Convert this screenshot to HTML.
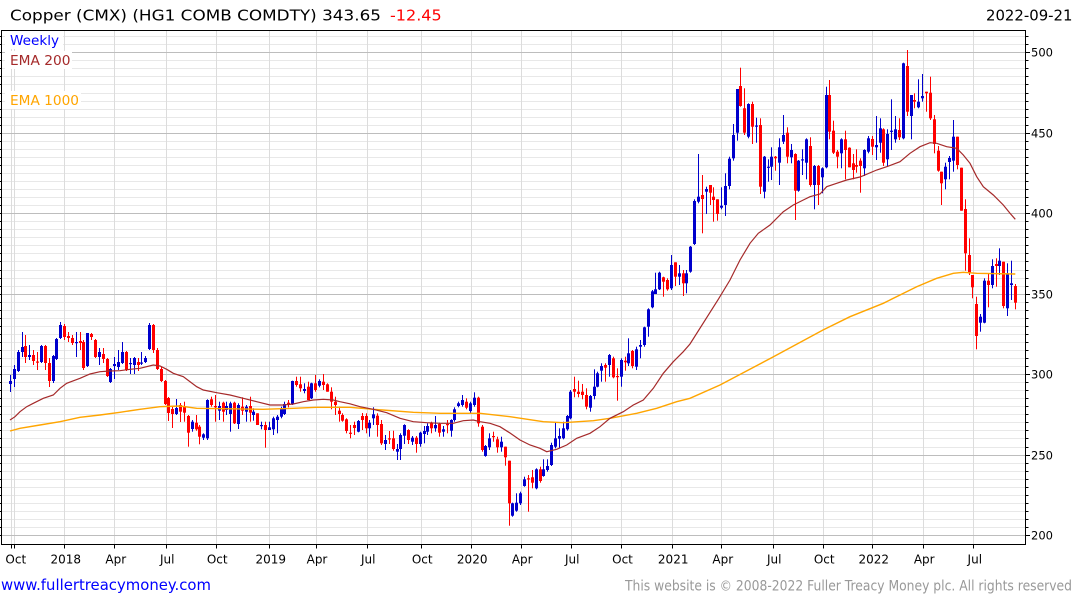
<!DOCTYPE html>
<html>
<head>
<meta charset="utf-8">
<style>
html,body{margin:0;padding:0;background:#fff;width:1075px;height:600px;overflow:hidden}
svg{display:block;font-family:"DejaVu Sans","Liberation Sans",sans-serif}
</style>
</head>
<body>
<svg id="s" width="1075" height="600" viewBox="0 0 1075 600" xmlns="http://www.w3.org/2000/svg">
<rect x="0" y="0" width="1075" height="600" fill="#fff"/>
<g id="grid"></g>
<g id="legend">
  <rect x="5" y="31" width="58" height="18" fill="#fff"/>
  <rect x="5" y="51" width="67" height="18" fill="#fff"/>
  <rect x="5" y="91" width="76" height="18" fill="#fff"/>
  <text x="10" y="45" font-size="13" fill="#0000ff" textLength="49" lengthAdjust="spacingAndGlyphs">Weekly</text>
  <text x="10" y="65" font-size="13" fill="#a52a2a" textLength="60.5" lengthAdjust="spacingAndGlyphs">EMA 200</text>
  <text x="10" y="105" font-size="13" fill="#ffa500" textLength="69" lengthAdjust="spacingAndGlyphs">EMA 1000</text>
</g>
<g id="candles"></g>
<g id="ema"></g>
<g id="axes"></g>
<text x="10" y="20.5" font-size="15" fill="#000" textLength="371" lengthAdjust="spacingAndGlyphs">Copper (CMX) (HG1 COMB COMDTY) 343.65</text>
<text x="390" y="20.5" font-size="15" fill="#ff0000" textLength="51.7" lengthAdjust="spacingAndGlyphs">-12.45</text>
<text x="986" y="20.5" font-size="15" fill="#000" textLength="86.5" lengthAdjust="spacingAndGlyphs">2022-09-21</text>
<text x="1" y="590" font-size="15.5" fill="#0000ff" textLength="210" lengthAdjust="spacingAndGlyphs">www.fullertreacymoney.com</text>
<text x="625" y="590.5" font-size="14" fill="#999" textLength="447" lengthAdjust="spacingAndGlyphs">This website is © 2008-2022 Fuller Treacy Money plc. All rights reserved</text>
</svg>
<script>
(function(){
var Y=function(v){return 52.3+(500-v)*1.609;};
var g='';
// minor horizontal grid
var majors='';
for(var v=200;v<=510;v+=5){
  var y=Math.round(Y(v))+0.5;
  if(y<31)continue;
  if(v%50===0){majors+='<line x1="2" x2="1025" y1="'+y+'" y2="'+y+'" stroke="#bdbdbd" stroke-width="1"/>';}
  else{g+='<line x1="2" x2="1025" y1="'+y+'" y2="'+y+'" stroke="#e8e8e8" stroke-width="1"/>';}
}
var vx=[11,14.3,64.3,114.3,165.7,215.7,269.3,315.5,366.7,420.7,470.7,520.7,570.7,621,671.7,721.3,772.7,822.7,872.3,922.7,973.3];
vx.forEach(function(x){var xx=Math.round(x)+0.5;g+='<line x1="'+xx+'" x2="'+xx+'" y1="31" y2="544" stroke="#dcdcdc" stroke-width="1"/>';});
g+=majors;
document.getElementById('grid').innerHTML=g;

var D=[
[384,381,375,392],[379,369,365,387],[371,352,350,372],[352,347,332,357],[346,357,335,363],[357,355,345,360],[355,361,350,365],[361.5,362.5,352,370],[362,346,345,363],[346,363,345,370],
[363,381,358,387],[381,356,355,383],[359,339,338,360],[338,325,322,339],[326,337,324,340],[336,338,332,342],[338,343,335,345],[343,342,332,357],[341,343,332,350],[342,368,340,370],
[366,333,333,367],[334,337,333,340],[340,357,339,358],[357,352,348,365],[354,359,348,363],[359,376,358,377],[382,369,368,383],[366,364,357,379],[367,362,350,370],[363,352,342,364],
[352,370,351,371],[364,363,358,374],[365,358,357,374],[362,365,358,371],[363.5,362.5,352,365],[362,358,356,363],[349,325,323,350],[325,350,324,353],[350,369,348,370],[369,381,367,382],
[381,404,380,405],[398,413,397,421],[409,414,407,428],[414,408,399,415],
[405,411.7,403,422],[406.7,412.7,401.7,421.7],[416,432.7,415,446.7],[429,421.7,420,431.7],[422.7,429.3,415,430.7],[426.7,436.7,425,444.3],[437.7,434.3,433.3,440],[438.3,400,399.3,440],[399.3,405,396.7,406.7],[406,407.3,395,421.7],
[410.7,406,401.7,420],[402.7,411.7,401.7,421.7],[410,406,401.7,415],[414,403.3,401.7,431.7],[402.7,423.3,401.7,424],[424,405,403.3,429],[406.7,410.7,397.3,415],[411.7,406.7,405,421.7],[406,412.7,396.7,421.7],[415,411.7,408.3,420.7],
[413.3,425,413.3,425],[425.7,425,421.7,429.3],[425,430,421.7,447.7],[430,427.3,421.7,430],[429.3,418.3,416.7,435],[420,416.7,415,433.3],[416.7,408.3,406.7,418.3],[414,404,401.7,415],[402.7,405,400,407.3],[404.3,381,380.7,405],
[381,385,376.7,386.7],[384.3,388.3,376.7,391.7],[391,389,383.3,393.3],[386.7,400,381.7,400],[398.3,383.3,382.7,399],[383.3,390,375,391.7],[385.7,381,379.3,387.3],[381.7,385,374,390],[384.3,391.7,383.3,391.7],[391.7,401.7,387.3,409.3],
[401.7,405,396.7,415],[410.7,414,406.7,421.7],[415,420.7,413.3,421.7],[419.3,431,418.3,433.3],
[432.7,433.3,425,438.3],[425,428,421.7,435],[431.7,421,420,432.3],[416,420,413,430],[416,428.3,413.3,433.3],[428.3,422.7,420,436.7],[418.3,414.3,407.3,425],[415.7,425,413.3,436.7],[424,443.3,420,445],[444,440,435,450],
[438.3,439,431,444],[438.3,449,430.7,450.7],[451.7,449,444,460],[449,435,433.3,460],[435.7,425,424.3,444],[430,440,429.3,444],[441.7,437.7,436,445],[437.7,444,436,452.7],[444,432.7,431.7,446.7],[434,431,426,443.3],
[431.7,426,423.3,435],[422.7,428.3,421.7,433.3],[428.3,425,416,431.7],[424,432.7,422.7,436.7],[431.7,429.3,426,436.7],[424,425,420,433.3],[430.7,420,419.3,436.7],[420,409.3,407.3,421.7],[406,403.3,401.7,407.3],[405,400,395,406.7],
[401.7,407.7,398.3,409.3],[411,403.3,401.7,413.3],[405,397.7,392.3,406.7],[397.7,423.3,396.7,426.7],[426.7,450,425,451.7],[456,446,445,456.7],[447.3,438.3,433.3,450],[436,436.7,431.7,441.7],[439.3,447.3,436.7,452.7],[447.3,441.7,436.7,451.7],
[446.7,457.3,446.7,465.7],[460.7,503.3,460.7,525.7],[515.7,503.3,502.7,516.7],[510.7,502.7,493.3,511.7],
[503.3,493.3,491.7,505],[486,479.3,476.7,486.7],[478.3,479.3,475,511.7],[477.3,482.7,470,488.3],[488.3,469.3,468.3,489.3],[469.3,481,466.7,482.7],[476,469.3,459.3,476.7],[470,466,459.3,471.7],[465,445,442.7,466],[446.7,438.3,422.7,448.3],
[438.7,436,428.3,448.3],[438.3,428.3,421.7,439.3],[429.3,416,415,430.7],[418.3,391.7,390,419.3],[389,391.7,376.7,397.3],[391.7,394,380.7,397.3],[391.7,395,384,399.3],[395,406.7,388.3,409.3],[407.7,396,395,411.7],[396,386.7,369.3,399.3],
[386.7,373.3,371.7,387.3],[370.7,366,363.3,381.7],[365,367.7,363.3,381.7],[365,355,354,376.7],[358.3,377.3,356.7,378.3],[376,376.7,368.3,400.7],[376.7,360,358.3,386.7],[360.7,362.3,356.7,370.7],[363.3,353.3,338.3,366],[351,366,350,368.3],
[366.7,349.3,346.7,370],[346.7,345,340,358.3],[345,327.3,326.7,346.7],[326.7,309.3,308.3,336.7],[307.3,291.3,290,308.3],[294,289.3,272.7,294],[289.3,272.7,271.7,290],[277.3,281.7,276.7,296.7],[280,289.3,278.3,290.7],[288.3,265,255,290],
[262.3,276.7,262.3,286],[276.7,273.3,265,285],[273.3,283.3,270,296],[283.3,273.3,270,293.3],
[271.7,246.7,246,272.7],[244,201,199.3,245],[201.7,196.7,154,203.3],[195,199,175,233.3],[191.7,189,186.7,214],[185,192.7,185,205],[196.7,200,187.3,221.7],[199.3,214,199.3,220.7],[207.7,205.7,187.3,209.3],[205,186,173.3,216],
[186,158.7,156.7,189.3],[158.3,135,124,160.7],[132.7,89,89,140.7],[86,106,67.7,106.7],[108.3,132.7,88.3,135],[136.7,104,103.3,138.3],[104,126.7,101.7,144],[126.5,125.5,117.7,142.7],[125,186.7,118.3,194],[191.7,156.7,156,198.3],
[167.7,166.7,159.3,181.7],[166.7,156.7,147.3,180],[156.7,158.3,156,170.7],[162.7,147.3,138.3,185],[141.7,135,115,144],[132.7,156.7,127.3,163.3],[157.3,150,144,163.3],[154,190.7,153.3,220],[190.7,160.7,160,191.7],[160,159.3,149.3,175],
[162.7,139.3,138.3,179.3],[146,185,137.3,186.7],[185,166,165,209.3],[166,185,165,205],[177.3,168.3,167.3,193.3],[167.3,95,86.7,168.3],[95,131.7,80,139.3],[130.7,152.7,120.7,154],[151.7,156.7,150,168.3],[153.3,139.3,138.3,168.3],
[139.3,150,130.7,179.3],[147.7,167.3,147.3,167.3],[163.3,170,154,179.3],[165,166.7,149.3,172.7],
[160.7,166,158.3,192.7],[168.3,150,149.3,176],[151.7,138.3,136,153.3],[139,146.7,136,155],[147.3,145,116,160],[142.7,128.3,118.3,152.7],[129.3,162.7,128.3,166],[159.3,134,129.3,166.7],[131.7,130.7,99.3,150],[139.3,129.3,116,142.7],
[130,137.3,118.3,140],[138.3,63.3,62.7,139.3],[66,111.7,50,116],[116,95,95,139.3],[100,101.7,93.3,108.3],[107.3,101.7,79.3,108.3],[98.3,96,74,101.7],[91.7,93.3,91.7,111.7],[92.7,118.3,76.7,120],[119.3,144,115,153.3],
[150.7,170.7,146,171.7],[171.7,183.3,171.7,205],[179.3,166.7,162.7,189.3],[162,158,156,179.3],[160.7,136.7,120,171.7],[136.7,165,136.7,169.3],[167.7,210.7,167.7,210.7],[209,253.3,199.3,270.7],[255,273.3,238.3,275],[275,287.3,275,298.3],
[304,336,296.7,349.3],[322.7,316.7,314,331.7],[322.7,280.7,278.3,323.3],[280.7,285,273.3,307.3],[285,266,259.3,288.3],[264,266,258.3,286.7],[266,260.7,248.3,275],[261.7,306,261.7,308.3],[308.3,273.3,263.3,316],[285,283.3,260.7,300],
[286,302.7,284,309.3]
];
var s='';
for(var i=0;i<D.length;i++){
  var d=D[i],o=d[0],c=d[1],h=d[2],l=d[3];
  var x=Math.round(10+3.865*i);
  var col=(c>o)?'#ff0000':'#0000cc';
  var t=Math.min(o,c),b=Math.max(o,c);
  s+='<rect x="'+x+'" y="'+h+'" width="1" height="'+Math.max(1,l-h).toFixed(1)+'" fill="'+col+'"/>';
  s+='<rect x="'+(x-1)+'" y="'+t+'" width="3" height="'+Math.max(1.2,b-t).toFixed(1)+'" fill="'+col+'"/>';
}
document.getElementById('candles').innerHTML=s;

var e200=[[10,420],[15,416.7],[20,411.7],[26.7,406.7],[33.3,403.3],[43.3,398.3],[53.3,395],[60,388.3],[66.7,383.3],[80,378.3],[90,374],[100,371.7],[110,371],[120,370.7],[130,369.3],[140,368.3],[153.3,365],[160,366],[166.7,369.3],[173.3,373.3],[183.3,376.7],[196.7,386.7],[203.3,390],[216.7,392.7],[230,395],[243.3,398.3],[256.7,401.7],[270,405],[283.3,405],[293.3,404],[303.3,401.7],[313.3,400],[323.3,399.3],[333.3,400],[340,401.7],[350,403.8],[360,406.7],[373.3,409.3],[386.7,412.7],[400,418.3],[413.3,421.7],[426.7,422.7],[440,423.3],[453.3,423.3],[463.3,420.7],[473.3,420],[480,421.7],[490,423.3],[500,426.7],[510,433],[520,440],[530,445],[540,448.3],[546.7,451.7],[556.7,449.3],[566.7,445],[576.7,438.3],[590,433.3],[600,426.7],[610,418.3],[623.3,411.7],[633.3,405],[643.3,400],[653.3,388.3],[663.3,373.3],[673.3,361.7],[683.3,351.7],[690,344],[718.3,299.3],[730,280],[740,260],[750,243.3],[758.3,233.3],[770,225],[783.3,211.7],[793.3,205],[803.3,200],[810,196.7],[820,194],[826.7,186.7],[836.7,183.3],[846.7,180],[860,177],[876.7,170],[886.7,166.7],[900,161.7],[910,153.3],[920,146.7],[930,142.7],[936.7,143.3],[946.7,146.7],[956.7,148.3],[963.3,155],[970,163.3],[976.7,176.7],[983.3,186.7],[993.3,195],[1003.3,205],[1010,213.3],[1015.3,219.3]];
var e1000=[[10,431],[20,428.3],[40,425],[60,421.7],[80,417.3],[100,415],[120,412.3],[140,409.3],[160,406.7],[180,406],[196.7,408.3],[263.3,409.3],[293.3,408.3],[316.7,407.3],[350,407.3],[373.3,409.3],[413.3,412.3],[440,413.3],[480,413.3],[510,416.7],[543.3,421.7],[563.3,422.7],[593.3,420.7],[610,418.3],[636.7,413.3],[656.7,408.3],[676.7,401.7],[690,398.3],[720,385],[773,357],[823,330],[850,316.7],[883.3,303.3],[916.7,286.7],[936.7,278.3],[953.3,273.3],[963.3,272.3],[976.7,273.3],[1015.3,274]];
function pts(a){return a.map(function(p){return p[0]+','+p[1];}).join(' ');}
document.getElementById('ema').innerHTML='<polyline points="'+pts(e1000)+'" fill="none" stroke="#ffa500" stroke-width="1.4"/>'+
'<polyline points="'+pts(e200)+'" fill="none" stroke="#a52a2a" stroke-width="1.2"/>';

var a='<rect x="1.5" y="30.5" width="1024" height="514" fill="none" stroke="#000" stroke-width="1"/>';
for(var v2=200;v2<=510;v2+=5){
  var y2=Math.round(Y(v2))+0.5;
  if(y2<31)continue;
  a+='<line x1="1026" x2="'+(v2%50===0?1030:1028.5)+'" y1="'+y2+'" y2="'+y2+'" stroke="#000" stroke-width="1"/>';
  a+='<line x1="0" x2="1.5" y1="'+y2+'" y2="'+y2+'" stroke="#000" stroke-width="1"/>';
  if(v2%50===0){a+='<text x="1031" y="'+(y2+4.2)+'" font-size="11.5" fill="#000">'+v2+'</text>';}
}
var labs=['Oct','2018','Apr','Jul','Oct','2019','Apr','Jul','Oct','2020','Apr','Jul','Oct','2021','Apr','Jul','Oct','2022','Apr','Jul'];
var lx=vx.slice(1);
for(var k=0;k<lx.length;k++){
  var xx=Math.round(lx[k])+0.5;
  a+='<line x1="'+xx+'" x2="'+xx+'" y1="544" y2="548.5" stroke="#000" stroke-width="1"/>';
  a+='<text x="'+(lx[k]+1.5)+'" y="563.3" font-size="12" fill="#000" text-anchor="middle">'+labs[k]+'</text>';
}
a+='<line x1="11.5" x2="11.5" y1="544" y2="548.5" stroke="#000" stroke-width="1"/>';
document.getElementById('axes').innerHTML=a;
})();
</script>
</body>
</html>
